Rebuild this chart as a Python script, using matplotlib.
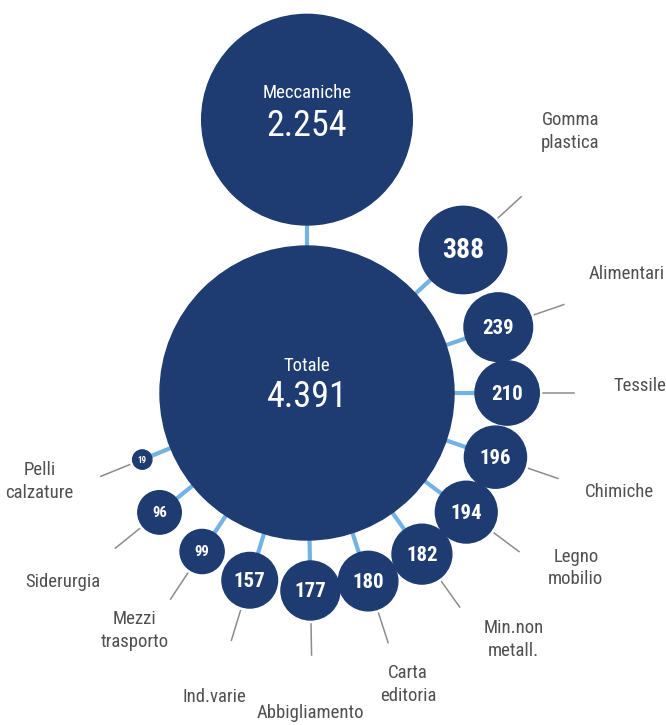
import numpy as np
import matplotlib.pyplot as plt
from matplotlib.patches import Circle
from matplotlib import font_manager
from matplotlib.font_manager import FontProperties

# dati: addetti per settore
totale = 4391
principale = 'Meccaniche'
principale_val = 2254
settori = ['Gomma\nplastica', 'Alimentari', 'Tessile', 'Chimiche', 'Legno\nmobilio',
           'Min.non\nmetall.', 'Carta\neditoria', 'Abbigliamento', 'Ind.varie',
           'Mezzi\ntrasporto', 'Siderurgia', 'Pelli\ncalzature']
valori = [388, 239, 210, 196, 194, 182, 180, 177, 157, 99, 96, 19]

# layout (pixel)
W, H = 666, 725
cx, cy = 307, 393
R_TOT = 147
GAP = 21
angoli = [42.5, 19, 0, -18.8, -36.8, -54.5, -72, -89, -107, -123.5, -141, -158]
lab_ang = [48, 22.4, 3, -15.7, -27, -43, -69, -90, -107, -130.5, -144, -168]
lab_dist = [160, 139, 133, 129, 123, 125, 111, 123, 122, 104, 119, 105]

BLU = '#1e3c71'
AZZURRO = '#72b3e3'
GRIGIO = '#8c8c8c'
TESTO = '#505050'


# cerca un font stretto (condensed)
def scegli_font():
    names = {f.name for f in font_manager.fontManager.ttflist}
    for n in ['Roboto Condensed', 'Open Sans Condensed', 'Liberation Sans Narrow',
              'Noto Sans Condensed', 'DejaVu Sans Condensed']:
        if n in names:
            return {'family': [n, 'DejaVu Sans']}, 1.0
    for n in ['DejaVu Sans', 'Noto Sans', 'Roboto', 'Open Sans']:
        try:
            p = font_manager.findfont(FontProperties(family=n, stretch='condensed'),
                                      fallback_to_default=False)
            if 'ondensed' in p or 'arrow' in p:
                return {'family': [n], 'fontstretch': 'condensed'}, 1.0
        except Exception:
            pass
    return {'family': ['DejaVu Sans']}, 0.8


FK, SC = scegli_font()


def fmt(v):
    return f'{v:,}'.replace(',', '.')


def raggio(v):
    return R_TOT * np.sqrt(v / totale)


fig = plt.figure(figsize=(W / 100, H / 100), dpi=100)
ax = fig.add_axes([0, 0, 1, 1])
ax.set_xlim(0, W)
ax.set_ylim(H, 0)
ax.set_aspect('equal')
ax.axis('off')

# cerchio totale
ax.add_patch(Circle((cx, cy), R_TOT, color=BLU, zorder=3))
ax.text(cx, cy - 27, 'Totale', color='white', fontsize=13.5 * SC, ha='center', va='center', zorder=4, **FK)
ax.text(cx, cy + 4, fmt(totale), color='white', fontsize=26 * SC, ha='center', va='center', zorder=4, **FK)

# meccaniche sopra
rm = raggio(principale_val)
my = cy - (R_TOT + GAP + rm)
ax.add_patch(Circle((cx, my), rm, color=BLU, zorder=3))
ax.plot([cx, cx], [cy - R_TOT, my + rm], color=AZZURRO, lw=3, zorder=2, solid_capstyle='butt')
ax.text(cx, my - 27, principale, color='white', fontsize=13.5 * SC, ha='center', va='center', zorder=4, **FK)
ax.text(cx, my + 6, fmt(principale_val), color='white', fontsize=26 * SC, ha='center', va='center', zorder=4, **FK)

for nome, v, a, la, ld in zip(settori, valori, angoli, lab_ang, lab_dist):
    r = raggio(v)
    t = np.radians(a)
    ux, uy = np.cos(t), -np.sin(t)
    d = R_TOT + GAP + r
    bx, by = cx + ux * d, cy + uy * d
    ax.add_patch(Circle((bx, by), r, color=BLU, zorder=3))
    # collegamento azzurro
    ax.plot([cx + ux * (R_TOT - 2), bx - ux * (r - 2)], [cy + uy * (R_TOT - 2), by - uy * (r - 2)],
            color=AZZURRO, lw=3, zorder=2, solid_capstyle='butt')
    # linea guida grigia
    ax.plot([bx + ux * (r + 4), bx + ux * (r + 35)], [by + uy * (r + 4), by + uy * (r + 35)],
            color=GRIGIO, lw=1.1, zorder=2)
    if v > 300:
        fs = 20
    elif v > 100:
        fs = 15
    elif v > 50:
        fs = 10.5
    else:
        fs = 6.5
    ax.text(bx, by + 1, fmt(v), color='white', fontsize=fs * SC, fontweight='bold',
            ha='center', va='center', zorder=4, **FK)
    tl = np.radians(la)
    ax.text(bx + np.cos(tl) * ld, by - np.sin(tl) * ld, nome, color=TESTO, fontsize=13.5 * SC,
            ha='center', va='center', multialignment='center', linespacing=1.35, zorder=4, **FK)

fig.savefig('out.png', dpi=100)
